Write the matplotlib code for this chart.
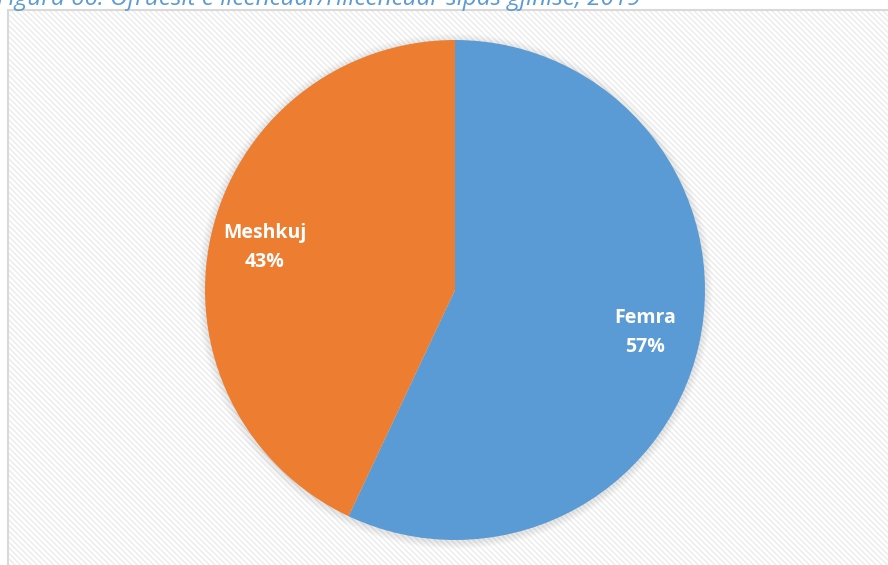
import matplotlib.pyplot as plt
from matplotlib.patches import Rectangle, Circle

# data
categories = ['Femra', 'Meshkuj']
shares = [57, 43]
colors = ['#5B9BD5', '#ED7D31']
title = 'Figura 66: Ofruesit e licencuar/rilicencuar sipas gjinisë, 2019'

W, H = 888, 565
fig = plt.figure(figsize=(W / 100, H / 100), dpi=100)
fig.patch.set_facecolor('white')

# background axes: chart frame with light diagonal stripes
bg = fig.add_axes([0, 0, 1, 1], zorder=-1)
bg.set_xlim(0, W)
bg.set_ylim(H, 0)
bg.axis('off')
bg.add_patch(Rectangle((8, 10), W, H, facecolor='white', edgecolor='#D9D9D9', linewidth=1.5))
bg.add_patch(Rectangle((9, 11), W, H, facecolor='none', edgecolor='#EBEBEB',
                       hatch='\\\\\\\\\\\\', linewidth=0))

# title, cut off by the top edge like in the original
fig.text(-3 / W, 1 - 5 / H, title, ha='left', va='baseline', fontsize=17.5, style='italic',
         color='#5B9BD5', family=['Open Sans', 'DejaVu Sans'])

cx, cy, r = 455, H - 290, 250
ax = fig.add_axes([(cx - r * 1.1) / W, (cy - r * 1.1) / H, 2.2 * r / W, 2.2 * r / H])

# soft shadow around the pie
for k in range(6):
    ax.add_patch(Circle((0, -0.005), 1.0 + 0.005 * (k + 1), facecolor='#000000', alpha=0.015,
                        edgecolor='none', zorder=1))

labels = [f'{c}\n{v}%' for c, v in zip(categories, shares)]
wedges, texts = ax.pie(shares, colors=colors, startangle=90, counterclock=False, radius=1.0,
                       labels=labels, labeldistance=0.78,
                       wedgeprops=dict(linewidth=0),
                       textprops=dict(color='white', fontsize=14, fontweight='bold',
                                      ha='center', va='center', linespacing=1.6,
                                      family=['Open Sans', 'DejaVu Sans']))
for w in wedges:
    w.set_zorder(2)
for t in texts:
    t.set_zorder(3)
ax.set_xlim(-1.1, 1.1)
ax.set_ylim(-1.1, 1.1)
ax.axis('off')

fig.savefig('out.png', dpi=100)
